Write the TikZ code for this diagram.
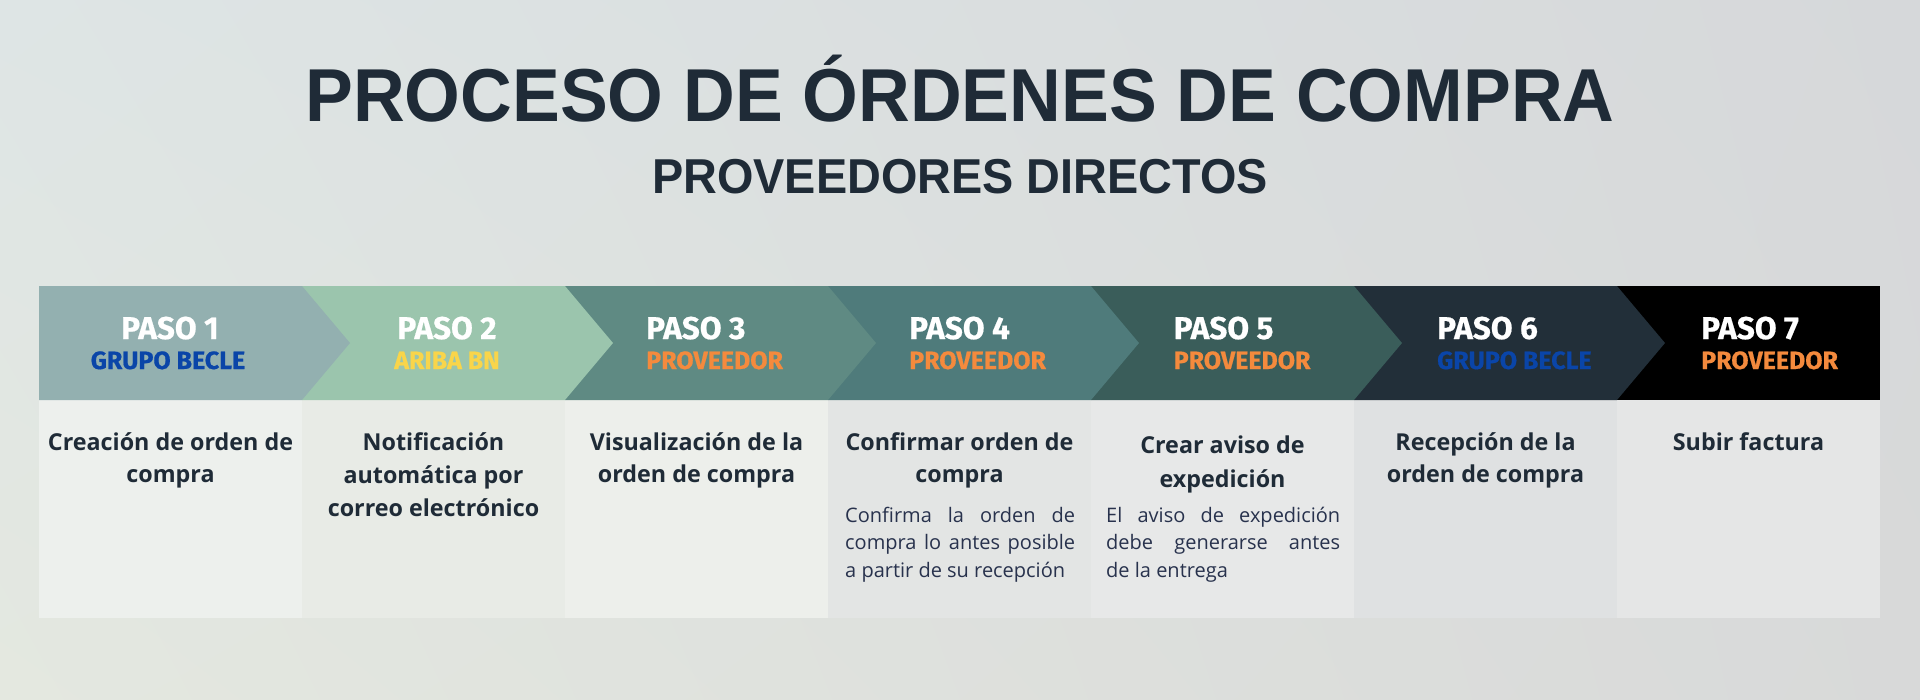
\documentclass[tikz,border=0pt]{standalone}
\usepackage{fontspec}
\usetikzlibrary{shadings}
\setmainfont{Open Sans}
\newfontfamily\titlefont{Liberation Sans}[FakeStretch=0.955]
\newfontfamily\pasofont{Fira Sans}[BoldFeatures={FakeBold=0.6}]
\newfontfamily\bodyfont{Open Sans}
\definecolor{dark}{HTML}{1F2B37}
\definecolor{smalltxt}{HTML}{28324D}
\definecolor{becle}{HTML}{0A45A8}
\definecolor{ariba}{HTML}{F9D54A}
\definecolor{prov}{HTML}{F48A3D}
\definecolor{b1}{HTML}{93B0B0}
\definecolor{b2}{HTML}{9BC5AD}
\definecolor{b3}{HTML}{5F8A83}
\definecolor{b4}{HTML}{4F7B7B}
\definecolor{b5}{HTML}{3A5D5A}
\definecolor{b6}{HTML}{222F39}
\definecolor{b7}{HTML}{000000}
\definecolor{p1}{HTML}{EDF0ED}
\definecolor{p2}{HTML}{E8EBE6}
\definecolor{p3}{HTML}{EDEFEB}
\definecolor{p4}{HTML}{E3E5E4}
\definecolor{p5}{HTML}{E7E8E8}
\definecolor{p6}{HTML}{DFE1E2}
\definecolor{p7}{HTML}{E5E6E6}
\definecolor{bgUL}{HTML}{DEE5E5}
\definecolor{bgUR}{HTML}{D6D8DA}
\definecolor{bgLL}{HTML}{E4E8E0}
\definecolor{bgLR}{HTML}{D8D9D9}
\tikzset{
  pasolbl/.style={font=\pasofont\bfseries\fontsize{31.5}{31.5}\selectfont, text=white, inner sep=0pt},
  rolelbl/.style={font=\pasofont\bfseries\fontsize{25}{25}\selectfont, inner sep=0pt},
  ttl/.style={font=\bodyfont\bfseries\fontsize{23.3}{23.3}\selectfont, text=dark, inner sep=0pt, anchor=base},
  smalltext/.style={font=\bodyfont\fontsize{20}{20}\selectfont, text=smalltxt, inner sep=0pt, anchor=base west},
}
\begin{document}
\begin{tikzpicture}[x=1pt,y=-1pt]
\useasboundingbox (0,0) rectangle (1920,699);
\shade[upper left=bgUL, upper right=bgUR, lower left=bgLL, lower right=bgLR] (0,0) rectangle (1920,699);
% lower panels
\fill[p1] (39,400) rectangle (302,618);
\fill[p2] (302,400) rectangle (565,618);
\fill[p3] (565,400) rectangle (828,618);
\fill[p4] (828,400) rectangle (1091,618);
\fill[p5] (1091,400) rectangle (1354,618);
\fill[p6] (1354,400) rectangle (1617,618);
\fill[p7] (1617,400) rectangle (1880,618);
% chevron band
\fill[b7] (1617,286) rectangle (1880,400);
\fill[b6] (1354,286) -- (1617,286) -- (1665,343) -- (1617,400) -- (1354,400) -- cycle;
\fill[b5] (1091,286) -- (1354,286) -- (1402,343) -- (1354,400) -- (1091,400) -- cycle;
\fill[b4] (828,286) -- (1091,286) -- (1139,343) -- (1091,400) -- (828,400) -- cycle;
\fill[b3] (565,286) -- (828,286) -- (876,343) -- (828,400) -- (565,400) -- cycle;
\fill[b2] (302,286) -- (565,286) -- (613,343) -- (565,400) -- (302,400) -- cycle;
\fill[b1] (39,286) -- (302,286) -- (350,343) -- (302,400) -- (39,400) -- cycle;
% titles
\node[font=\titlefont\bfseries\fontsize{75}{75}\selectfont, text=dark, inner sep=0pt, anchor=base] (title) at (960,121) {PROCESO DE ÓRDENES DE COMPRA};
\node[font=\titlefont\bfseries\fontsize{49}{49}\selectfont, text=dark, inner sep=0pt, anchor=base] (subtitle) at (960,193) {PROVEEDORES DIRECTOS};
% step labels
\node[pasolbl, anchor=base] (paso1) at (170,339) {PASO 1};
\node[rolelbl, anchor=base, text=becle] (role1) at (168,369) {GRUPO BECLE};
\node[pasolbl, anchor=base] (paso2) at (447,339) {PASO 2};
\node[rolelbl, anchor=base, text=ariba] (role2) at (447,369) {ARIBA BN};
\node[pasolbl, anchor=base west] (paso3) at (646,339) {PASO 3};
\node[rolelbl, anchor=base west, text=prov] (role3) at (646,369) {PROVEEDOR};
\node[pasolbl, anchor=base west] (paso4) at (909,339) {PASO 4};
\node[rolelbl, anchor=base west, text=prov] (role4) at (909,369) {PROVEEDOR};
\node[pasolbl, anchor=base west] (paso5) at (1173.5,339) {PASO 5};
\node[rolelbl, anchor=base west, text=prov] (role5) at (1173.5,369) {PROVEEDOR};
\node[pasolbl, anchor=base west] (paso6) at (1437,339) {PASO 6};
\node[rolelbl, anchor=base west, text=becle] (role6) at (1437,369) {GRUPO BECLE};
\node[pasolbl, anchor=base west] (paso7) at (1701,339) {PASO 7};
\node[rolelbl, anchor=base west, text=prov] (role7) at (1701,369) {PROVEEDOR};
% panel titles
\node[ttl] (t1a) at (170.5,450) {Creación de orden de};
\node[ttl] (t1b) at (170.5,482) {compra};
\node[ttl] (t2a) at (433.5,450) {Notificación};
\node[ttl] (t2b) at (433.5,483) {automática por};
\node[ttl] (t2c) at (433.5,516) {correo electrónico};
\node[ttl] (t3a) at (696.5,450) {Visualización de la};
\node[ttl] (t3b) at (696.5,482) {orden de compra};
\node[ttl] (t4a) at (959.5,450) {Confirmar orden de};
\node[ttl] (t4b) at (959.5,482) {compra};
\node[ttl] (t5a) at (1222.5,453) {Crear aviso de};
\node[ttl] (t5b) at (1222.5,487) {expedición};
\node[ttl] (t6a) at (1485.5,450) {Recepción de la};
\node[ttl] (t6b) at (1485.5,482) {orden de compra};
\node[ttl] (t7a) at (1748.5,450) {Subir factura};
% small descriptions
\node[smalltext] (s4a) at (845,522) {\makebox[230pt][s]{Confirma la orden de}};
\node[smalltext] (s4b) at (845,549.5) {\makebox[230pt][s]{compra lo antes posible}};
\node[smalltext] (s4c) at (845,577) {a partir de su recepción};
\node[smalltext] (s5a) at (1106,522) {\makebox[234pt][s]{El aviso de expedición}};
\node[smalltext] (s5b) at (1106,549.5) {\makebox[234pt][s]{debe generarse antes}};
\node[smalltext] (s5c) at (1106,577) {de la entrega};
\end{tikzpicture}
\end{document}
